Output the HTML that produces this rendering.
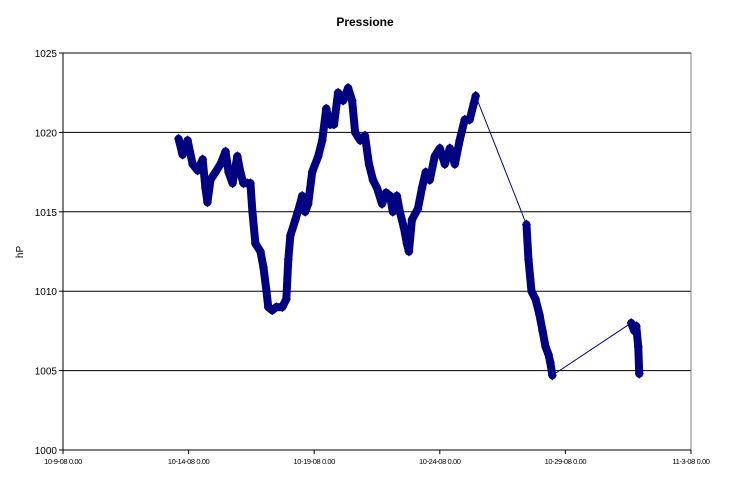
<!DOCTYPE html>
<html><head><meta charset="utf-8"><style>
body{margin:0;background:#fff;}
svg text{font-family:"Liberation Sans",Arial,sans-serif;}
</style></head><body>
<svg id="chart" width="733" height="482" xmlns="http://www.w3.org/2000/svg">
<text x="365" y="26" text-anchor="middle" font-size="12" font-weight="bold">Pressione</text>
<text transform="translate(23,252) rotate(-90)" text-anchor="middle" font-size="10">hP</text>
<g id="grid"></g><g id="axes"></g><g id="series"></g>
</svg>
<script>
const yTicks=[1000,1005,1010,1015,1020,1025];
const xTickDays=[0,5,10,15,20,25];
const xTickLabels=["10-9-08 0.00","10-14-08 0.00","10-19-08 0.00","10-24-08 0.00","10-29-08 0.00","11-3-08 0.00"];
const days=[4.60,4.76,4.96,5.16,5.36,5.56,5.67,5.75,5.87,6.07,6.27,6.47,6.59,6.75,6.94,7.06,7.18,7.34,7.46,7.54,7.66,7.86,7.98,8.10,8.17,8.33,8.49,8.73,8.89,8.97,9.05,9.25,9.44,9.52,9.64,9.76,9.92,10.16,10.32,10.48,10.63,10.79,10.95,11.15,11.35,11.51,11.63,11.83,12.02,12.18,12.34,12.50,12.70,12.86,13.02,13.13,13.29,13.41,13.57,13.69,13.77,13.89,14.13,14.29,14.44,14.60,14.80,15.00,15.20,15.40,15.60,15.79,15.99,16.19,16.35,16.43,18.45,18.53,18.65,18.81,18.97,19.09,19.21,19.33,19.40,19.48,22.62,22.74,22.82,22.90,22.94];
const pressure=[1019.6,1018.6,1019.5,1018.0,1017.6,1018.3,1016.5,1015.6,1017.0,1017.5,1018.0,1018.8,1017.5,1016.8,1018.5,1017.5,1016.8,1016.8,1016.8,1015.0,1013.0,1012.5,1011.5,1010.0,1009.0,1008.8,1009.0,1009.0,1009.5,1012.0,1013.5,1014.5,1015.5,1016.0,1015.0,1015.5,1017.5,1018.5,1019.5,1021.5,1020.5,1020.5,1022.5,1022.0,1022.8,1022.0,1020.0,1019.5,1019.8,1018.0,1017.0,1016.5,1015.5,1016.2,1016.0,1015.0,1016.0,1015.0,1014.0,1013.0,1012.5,1014.5,1015.2,1016.5,1017.5,1017.0,1018.5,1019.0,1018.0,1019.0,1018.0,1019.5,1020.8,1020.8,1021.8,1022.3,1014.2,1012.0,1010.0,1009.5,1008.5,1007.5,1006.5,1006.0,1005.5,1004.7,1008.0,1007.5,1007.8,1006.5,1004.8];
const NS="http://www.w3.org/2000/svg";
const X0=63,X1=691,Y0=450,Y1=53;
const xs=d=>X0+(d-0)/(25-0)*(X1-X0);
const ys=v=>Y0-(v-1000)/(1025-1000)*(Y0-Y1);
function mk(t,a,p){const e=document.createElementNS(NS,t);for(const k in a)e.setAttribute(k,a[k]);p.appendChild(e);return e;}
const grid=document.getElementById('grid'),axes=document.getElementById('axes'),ser=document.getElementById('series');
yTicks.forEach(v=>{
 if(v>1000){const l=mk('line',{x1:X0,x2:X1,y1:ys(v),y2:ys(v),stroke:'#000','stroke-width':1},grid);
 
 }
 mk('line',{x1:X0-4,x2:X0,y1:ys(v),y2:ys(v),stroke:'#000'},axes);
 const t=mk('text',{x:X0-6,y:ys(v)+4,'text-anchor':'end','font-size':10},axes);t.textContent=v;
 
 
});
mk('line',{x1:X1,x2:X1,y1:Y1,y2:Y0,stroke:'#808080'},axes);
mk('line',{x1:X0,x2:X0,y1:Y1,y2:Y0,stroke:'#000'},axes);
mk('line',{x1:X0,x2:X1,y1:Y0,y2:Y0,stroke:'#000'},axes);
xTickDays.forEach((d,i)=>{
 mk('line',{x1:xs(d),x2:xs(d),y1:Y0,y2:Y0+4,stroke:'#000'},axes);
 const t=mk('text',{x:xs(d),y:Y0+14,'text-anchor':'middle','font-size':7.5,'letter-spacing':'-0.4'},axes);t.textContent=xTickLabels[i];
 
 
});
for(let i=1;i<days.length;i++){
 const dense=days[i]-days[i-1]<0.5;
 const s=mk('line',{x1:xs(days[i-1]),y1:ys(pressure[i-1]),x2:xs(days[i]),y2:ys(pressure[i]),stroke:'#000080','stroke-width':dense?8:1,'stroke-linecap':'round'},ser);
 
 
}
days.forEach((d,i)=>{
 const x=xs(d),y=ys(pressure[i]);
 const p=mk('polygon',{points:`${x},${y-5} ${x+4.5},${y} ${x},${y+5} ${x-4.5},${y}`,fill:'#000080'},ser);
 
 
});
</script>
</body></html>
